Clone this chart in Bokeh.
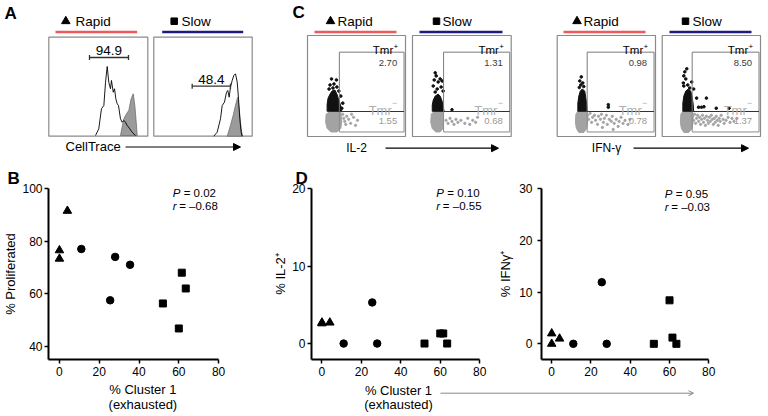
from bokeh.plotting import figure
from bokeh.layouts import row, column
from bokeh.models import Range1d, Arrow, NormalHead, OpenHead, Label, FixedTicker
from bokeh.embed import file_html
from bokeh.resources import INLINE
from bokeh.core.properties import value

FONT = "Liberation Sans"
RED = "#ee5a5a"
NAVY = "#1c1c80"
BOX = "#8a8a8a"

# ---------------- Panel B / D values ----------------
x_ticks = [0, 20, 40, 60, 80]
b_y_ticks = [40, 60, 80, 100]
il2_y_ticks = [0, 10, 20]
ifng_y_ticks = [0, 10, 20, 30]

rapid_cluster1_b = [0, 0, 4]
rapid_proliferated = [76.5, 73.3, 91.5]
mid_cluster1_b = [11, 28, 35.5, 25.5]
mid_proliferated = [77, 74, 71, 57.5]
slow_cluster1_b = [61.5, 63.5, 52, 60]
slow_proliferated = [68, 62, 56.3, 46.8]

rapid_cluster1_d = [0, 0, 4]
rapid_il2 = [2.7, 2.6, 2.7]
rapid_ifng = [2.0, 0.0, 1.0]
mid_cluster1_d = [11, 25.5, 28]
mid_il2 = [0.0, 5.3, 0.0]
mid_ifng = [0.0, 11.9, 0.0]
slow_cluster1_d = [52, 60, 61.5, 63.5]
slow_il2 = [0.0, 1.3, 1.3, 0.0]
slow_ifng = [0.0, 8.4, 1.2, 0.0]

stats_b = ("0.02", "\u20130.68")
stats_il2 = ("0.10", "\u20130.55")
stats_ifng = ("0.95", "\u20130.03")

# ---------------- Panel A histograms (channel %, count % of box) ----------------
A_RAPID_OPEN_X = [47.2, 50.5, 53.2, 55.6, 57.3, 59.0, 60.6, 62.3, 63.3, 65.1, 66.4, 67.7, 69.1, 70.4, 72.4, 74.1, 75.8, 77.5, 79.2, 81.8, 84.2, 87.6]
A_RAPID_OPEN_Y = [0.7, 7.5, 27.7, 31.0, 54.5, 70.4, 54.5, 47.9, 56.3, 44.4, 47.9, 37.8, 32.7, 31.0, 17.6, 14.1, 15.9, 14.1, 10.8, 7.5, 4.0, 0.7]
A_RAPID_GRAY_X = [72.4, 75.8, 78.5, 80.8, 83.2, 85.3, 86.9, 88.3, 89.3]
A_RAPID_GRAY_Y = [0.7, 17.6, 22.6, 26.0, 37.8, 42.8, 31.0, 14.1, 0.7]
A_SLOW_OPEN_X = [61.0, 64.4, 67.8, 69.5, 71.8, 73.9, 75.2, 76.6, 77.9, 79.7, 81.3, 83.0, 84.8, 86.1, 87.4, 88.8, 89.8]
A_SLOW_OPEN_Y = [0, 4, 17.6, 31, 34.3, 44.4, 46.2, 39.4, 49.5, 56.3, 61.3, 63, 54.5, 37.8, 17.6, 4, 0]
A_SLOW_GRAY_X = [74.6, 77.9, 80.6, 83.0, 84.8, 85.4, 87.1, 88.8, 90.1]
A_SLOW_GRAY_Y = [0, 10.8, 20.9, 31, 37.8, 39.4, 24.2, 7.5, 0]
A_RAPID_GATE = [41.1, 80.5, 79.5]
A_SLOW_GATE = [39.0, 77.9, 50.5]
A_PCT = ["94.9", "48.4"]

# ---------------- Panel C dot plots (box %) ----------------
GATE_LEFT = [32.5, 31.5, 30.5, 30.5]
GATE_RIGHT, GATE_BOTTOM, GATE_MID, GATE_TOP = 98.5, 4.5, 24.75, 83.5
C_PCT_POS = ["2.70", "1.31", "0.98", "8.50"]
C_PCT_NEG = ["1.55", "0.68", "0.78", "1.37"]

IL2_RAPID_BLACK_CORE_X = [20, 20, 21, 23, 25, 28, 30, 32, 34, 35]
IL2_RAPID_BLACK_CORE_Y = [25, 32, 38, 42, 45, 46, 42, 36, 30, 25]
IL2_RAPID_BLACK_DOTS_X = [24.5, 29.5, 23, 27, 30, 22, 32, 34, 36, 35, 26]
IL2_RAPID_BLACK_DOTS_Y = [57, 56, 51, 52, 49, 47, 45, 40, 33, 28, 48]
IL2_RAPID_GRAY_CORE_X = [19, 18.5, 20, 24, 30, 34, 35, 34, 30, 23]
IL2_RAPID_GRAY_CORE_Y = [22, 14, 8, 4.5, 4.5, 8, 15, 24.5, 25, 25]
IL2_RAPID_GRAY_DOTS_X = [36, 37, 38, 40, 42, 44, 47, 49, 39, 45, 51]
IL2_RAPID_GRAY_DOTS_Y = [22, 18, 15, 20, 17, 13, 19, 11, 12, 22, 16]

IL2_SLOW_BLACK_CORE_X = [20, 20, 21, 23, 26, 28, 30, 31, 32]
IL2_SLOW_BLACK_CORE_Y = [25, 31, 36, 40, 42, 40, 35, 30, 25]
IL2_SLOW_BLACK_DOTS_X = [23, 24, 22, 26, 28, 21, 29, 25, 31, 23, 30, 40]
IL2_SLOW_BLACK_DOTS_Y = [63, 60, 56, 54, 57, 50, 49, 47, 45, 44, 55, 26.5]
IL2_SLOW_GRAY_CORE_X = [19, 18.5, 20, 23.5, 28, 31, 31.5, 31, 28, 22]
IL2_SLOW_GRAY_CORE_Y = [22, 14, 8, 4.5, 4.5, 8, 15, 24.5, 25, 25]
IL2_SLOW_GRAY_DOTS_X = [34, 36, 38, 40, 42, 44, 46, 49, 53, 56, 58, 61, 64, 66]
IL2_SLOW_GRAY_DOTS_Y = [16, 13, 18, 15, 12, 17, 14, 16, 13, 18, 12, 16, 14, 19]

IFNG_RAPID_BLACK_CORE_X = [21, 21, 22, 23.5, 25.5, 28, 29, 30, 30.5]
IFNG_RAPID_BLACK_CORE_Y = [25, 33, 40, 45, 47, 45, 39, 32, 25]
IFNG_RAPID_BLACK_DOTS_X = [24.5, 23, 26, 24, 27, 22.5, 52, 52]
IFNG_RAPID_BLACK_DOTS_Y = [59, 55, 53, 51, 49.5, 48.5, 31.5, 29]
IFNG_RAPID_GRAY_CORE_X = [19, 18.5, 19.5, 22, 27, 30, 31, 30.5, 29, 21]
IFNG_RAPID_GRAY_CORE_Y = [22, 14, 8, 4, 4, 8, 15, 24.5, 25, 25]
IFNG_RAPID_GRAY_DOTS_X = [31, 32, 33.5, 35, 36, 38, 39, 41, 42, 44, 45, 47, 48, 50, 51, 53, 55, 56, 58, 60, 62, 63, 65, 67, 69, 72, 57, 46, 74]
IFNG_RAPID_GRAY_DOTS_Y = [21, 17, 23, 14, 19, 21, 16, 12, 20, 17, 22, 14, 18, 21, 12, 17, 15, 20, 13, 17, 10, 15, 19, 13, 16, 12, 7, 9, 17]

IFNG_SLOW_BLACK_CORE_X = [21, 21, 22, 24, 26.5, 29, 30.5, 31.5, 32]
IFNG_SLOW_BLACK_CORE_Y = [25, 33, 40, 45, 47, 45, 39, 32, 25]
IFNG_SLOW_BLACK_DOTS_X = [22, 24, 21.5, 26, 28, 23, 25, 22, 32, 35, 37, 40, 42.5, 45, 55, 68, 30]
IFNG_SLOW_BLACK_DOTS_Y = [60, 57, 53, 51, 48, 64, 67, 50, 47, 38, 29, 29, 29.5, 38, 28, 28, 54]
IFNG_SLOW_GRAY_CORE_X = [19, 18.5, 19.5, 22, 27, 30.5, 31.5, 31, 29, 21]
IFNG_SLOW_GRAY_CORE_Y = [22, 14, 8, 4, 4, 8, 15, 24.5, 25, 25]
IFNG_SLOW_GRAY_DOTS_X = [31, 32, 33, 34, 35, 36, 37, 38, 39, 40, 41, 42, 43, 44, 45, 46, 47, 48, 49, 50, 51, 52, 53, 54, 55, 56, 57, 58, 59, 60, 62, 63, 65, 67, 69, 71, 73, 76]
IFNG_SLOW_GRAY_DOTS_Y = [20, 16, 22, 13, 18, 21, 15, 19, 12, 17, 21, 14, 18, 11, 20, 16, 13, 19, 15, 21, 17, 12, 18, 14, 20, 16, 11, 18, 15, 21, 17, 13, 16, 19, 14, 18, 15, 18]


# ---------------- helpers ----------------
def canvas(x0, y0, w, h):
    p = figure(width=w, height=h, x_range=Range1d(x0, x0 + w), y_range=Range1d(y0 + h, y0),
               output_backend="svg", toolbar_location=None, min_border=0,
               x_axis_location=None, y_axis_location=None)
    p.xgrid.visible = False
    p.ygrid.visible = False
    p.outline_line_color = None
    p.background_fill_color = "white"
    return p


def txt(p, x, y, s, size="13px", align="left", baseline="middle", color="black", style="normal", **kw):
    p.text(x=[x], y=[y], text=[s], text_font=value(FONT), text_font_size=size,
           text_align=align, text_baseline=baseline, text_color=color,
           text_font_style=style, **kw)


def flow_box(p, name, L, R, T, B, x0, y0, w, h):
    bw, bh = R - L, B - T
    p.extra_x_ranges[name] = Range1d(-(L - x0) / bw * 100, 100 + (x0 + w - R) / bw * 100)
    p.extra_y_ranges[name] = Range1d(-(y0 + h - B) / bh * 100, 100 + (T - y0) / bh * 100)
    kw = dict(x_range_name=name, y_range_name=name)
    p.quad(left=[0], right=[100], bottom=[0], top=[100], fill_color=None,
           line_color=BOX, line_width=1.2, **kw)
    return kw


def header(p, tri_x, rapid_x, red0, red1, sq_x, slow_x, blue0, blue1):
    p.scatter([tri_x], [20.7], marker="triangle", size=8.5, color="black")
    txt(p, rapid_x, 20.7, "Rapid", size="13.5px")
    p.scatter([sq_x], [20.7], marker="square", size=6.5, color="black")
    txt(p, slow_x, 20.7, "Slow", size="13.5px")
    p.segment(x0=[red0], y0=[31.5], x1=[red1], y1=[31.5], line_color=RED, line_width=2.5)
    p.segment(x0=[blue0], y0=[31.5], x1=[blue1], y1=[31.5], line_color=NAVY, line_width=2.5)


# ---------------- Panel A ----------------
AX0, AY0, AW, AH = 0, 0, 280, 155
pA = canvas(AX0, AY0, AW, AH)
txt(pA, 4, 12.5, "A", size="17px", style="bold")
header(pA, 65.3, 75, 55, 136.7, 173.7, 181, 161.7, 242.7)

hist_specs = [
    ("a_rapid", 48.3, 147.3, A_RAPID_OPEN_X, A_RAPID_OPEN_Y, A_RAPID_GRAY_X, A_RAPID_GRAY_Y, A_RAPID_GATE, A_PCT[0]),
    ("a_slow", 153.3, 251.7, A_SLOW_OPEN_X, A_SLOW_OPEN_Y, A_SLOW_GRAY_X, A_SLOW_GRAY_Y, A_SLOW_GATE, A_PCT[1]),
]
for name, L, R, ox, oy, gx, gy, gate, pct in hist_specs:
    kw = flow_box(pA, name, L, R, 36.7, 135.7, AX0, AY0, AW, AH)
    pA.patch(gx, gy, fill_color="#9b9b9b", line_color="#6e6e6e", line_width=0.8, **kw)
    pA.line(ox, oy, line_color="black", line_width=0.9, **kw)
    g0, g1, lvl = gate
    pA.segment(x0=[g0], y0=[lvl], x1=[g1], y1=[lvl], line_color="#333333", line_width=1.3, **kw)
    pA.segment(x0=[g0, g1], y0=[lvl - 2.5, lvl - 2.5], x1=[g0, g1], y1=[lvl + 2.5, lvl + 2.5],
               line_color="#333333", line_width=1.3, **kw)
    txt(pA, (g0 + g1) / 2, lvl + 2.5, pct, size="13.5px", align="center", baseline="bottom", **kw)

txt(pA, 65, 146, "CellTrace", size="13px")
pA.add_layout(Arrow(end=NormalHead(size=7, fill_color="black", line_color="black", line_width=1),
                    x_start=125, y_start=146.5, x_end=240, y_end=146.5,
                    line_color="black", line_width=1.2))

# ---------------- Panel C ----------------
CX0, CY0, CW, CH = 280, 0, 488, 155
pC = canvas(CX0, CY0, CW, CH)
txt(pC, 292, 11.5, "C", size="17px", style="bold")
header(pC, 330, 337, 314, 396, 436, 442, 419, 502)
header(pC, 576.5, 583, 563, 645, 685, 692, 669, 751)

flow_specs = [
    ("c1", 307, 405, IL2_RAPID_BLACK_CORE_X, IL2_RAPID_BLACK_CORE_Y, IL2_RAPID_BLACK_DOTS_X, IL2_RAPID_BLACK_DOTS_Y,
     IL2_RAPID_GRAY_CORE_X, IL2_RAPID_GRAY_CORE_Y, IL2_RAPID_GRAY_DOTS_X, IL2_RAPID_GRAY_DOTS_Y),
    ("c2", 412, 510.7, IL2_SLOW_BLACK_CORE_X, IL2_SLOW_BLACK_CORE_Y, IL2_SLOW_BLACK_DOTS_X, IL2_SLOW_BLACK_DOTS_Y,
     IL2_SLOW_GRAY_CORE_X, IL2_SLOW_GRAY_CORE_Y, IL2_SLOW_GRAY_DOTS_X, IL2_SLOW_GRAY_DOTS_Y),
    ("c3", 556.7, 655, IFNG_RAPID_BLACK_CORE_X, IFNG_RAPID_BLACK_CORE_Y, IFNG_RAPID_BLACK_DOTS_X, IFNG_RAPID_BLACK_DOTS_Y,
     IFNG_RAPID_GRAY_CORE_X, IFNG_RAPID_GRAY_CORE_Y, IFNG_RAPID_GRAY_DOTS_X, IFNG_RAPID_GRAY_DOTS_Y),
    ("c4", 661.7, 760, IFNG_SLOW_BLACK_CORE_X, IFNG_SLOW_BLACK_CORE_Y, IFNG_SLOW_BLACK_DOTS_X, IFNG_SLOW_BLACK_DOTS_Y,
     IFNG_SLOW_GRAY_CORE_X, IFNG_SLOW_GRAY_CORE_Y, IFNG_SLOW_GRAY_DOTS_X, IFNG_SLOW_GRAY_DOTS_Y),
]
for i, (name, L, R, bcx, bcy, bdx, bdy, gcx, gcy, gdx, gdy) in enumerate(flow_specs):
    kw = flow_box(pC, name, L, R, 35, 136, CX0, CY0, CW, CH)
    pC.patch(gcx, gcy, fill_color="#a3a3a3", line_color="#a3a3a3", line_width=1, **kw)
    pC.scatter(gdx, gdy, size=2.3, color="#a3a3a3", **kw)
    pC.patch(bcx, bcy, fill_color="#111111", line_color="#111111", line_width=1, **kw)
    pC.scatter(bdx, bdy, size=2.6, color="#111111", **kw)
    gl = GATE_LEFT[i]
    pC.quad(left=[gl], right=[GATE_RIGHT], bottom=[GATE_MID], top=[GATE_TOP], fill_color=None,
            line_color="#7a7a7a", line_width=1, **kw)
    pC.quad(left=[gl], right=[GATE_RIGHT], bottom=[GATE_BOTTOM], top=[GATE_MID], fill_color=None,
            line_color="#8c8c8c", line_width=1, **kw)
    pC.segment(x0=[gl], y0=[GATE_MID], x1=[GATE_RIGHT], y1=[GATE_MID], line_color="#333333", line_width=1.2, **kw)
    txt(pC, 87.5, 85.3, "Tmr", size="11.5px", align="right", baseline="alphabetic", **kw)
    txt(pC, 87.8, 89.5, "+", size="8px", align="left", baseline="alphabetic", **kw)
    txt(pC, 91.5, 72.5, C_PCT_POS[i], size="9.5px", align="right", baseline="alphabetic", color="#3a3a3a", **kw)
    txt(pC, 86.0, 25.8, "Tmr", size="13px", align="right", baseline="alphabetic", color="#b0b0b0", **kw)
    txt(pC, 86.3, 33.5, "\u2212", size="9px", align="left", baseline="alphabetic", color="#b0b0b0", **kw)
    txt(pC, 91.5, 15.0, C_PCT_NEG[i], size="9.5px", align="right", baseline="alphabetic", color="#999999", **kw)

txt(pC, 356, 147.5, "IL-2", size="12px", align="center")
pC.add_layout(Arrow(end=NormalHead(size=7, fill_color="black", line_color="black", line_width=1),
                    x_start=385, y_start=147.7, x_end=498, y_end=147.7, line_color="black", line_width=1.2))
txt(pC, 606, 147.5, "IFN-\u03b3", size="12px", align="center")
pC.add_layout(Arrow(end=NormalHead(size=7, fill_color="black", line_color="black", line_width=1),
                    x_start=633, y_start=147.7, x_end=748, y_end=147.7, line_color="black", line_width=1.2))


# ---------------- scatter panels ----------------
def scatter_panel(w, h, xr, yr, yticks, ylabel, mbl, mbr, mbt, mbb, tick_standoff, label_standoff,
                  letter, letter_offset):
    p = figure(width=w, height=h, x_range=Range1d(*xr), y_range=Range1d(*yr),
               output_backend="svg", toolbar_location=None, title=letter,
               min_border_left=mbl, min_border_right=mbr, min_border_top=mbt, min_border_bottom=mbb)
    p.title.text_font = FONT
    p.title.text_font_size = "17px"
    p.title.text_font_style = "bold"
    p.title.text_color = "black"
    p.title.align = "left"
    p.title.offset = letter_offset
    p.title.standoff = 1
    p.xgrid.visible = False
    p.ygrid.visible = False
    p.outline_line_color = None
    p.xaxis.ticker = FixedTicker(ticks=x_ticks)
    p.yaxis.ticker = FixedTicker(ticks=yticks)
    p.xaxis.bounds = (xr[0], x_ticks[-1])
    for ax in (p.xaxis[0], p.yaxis[0]):
        ax.axis_line_width = 2
        ax.axis_line_color = "black"
        ax.major_tick_line_width = 1.5
        ax.major_tick_line_color = "black"
        ax.major_tick_out = 4
        ax.major_tick_in = 0
        ax.minor_tick_out = 0
        ax.minor_tick_in = 0
        ax.major_label_text_font = FONT
        ax.major_label_text_font_size = "12px"
        ax.major_label_text_color = "black"
    p.xaxis.major_label_standoff = 3
    p.yaxis.major_label_standoff = tick_standoff
    p.yaxis.axis_label = ylabel
    p.yaxis.axis_label_text_font = FONT
    p.yaxis.axis_label_text_font_size = "13px"
    p.yaxis.axis_label_text_font_style = "normal"
    p.yaxis.axis_label_text_color = "black"
    p.yaxis.axis_label_standoff = label_standoff
    return p


def plot_groups(p, rx, ry, mx, my, sx, sy):
    p.scatter(rx, ry, marker="triangle", size=8.5, color="black")
    p.scatter(mx, my, marker="circle", size=7.5, color="black")
    p.scatter(sx, sy, marker="square", size=7, color="black")


def stats(p, x, yp, yr, st):
    common = dict(text_font=FONT, text_font_size="11.5px", text_baseline="middle", text_color="black")
    p.add_layout(Label(x=x, y=yp, text="P", text_font_style="italic", **common))
    p.add_layout(Label(x=x, y=yp, x_offset=11, text="= " + st[0], **common))
    p.add_layout(Label(x=x, y=yr, text="r", text_font_style="italic", **common))
    p.add_layout(Label(x=x, y=yr, x_offset=6.5, text="= " + st[1], **common))


SC_H = 227
pB = scatter_panel(270, SC_H, (-5.5, 88), (35, 100), b_y_ticks, "% Proliferated", 47, 36, 33, 23, 2, 1,
                   "B", -41)
plot_groups(pB, rapid_cluster1_b, rapid_proliferated, mid_cluster1_b, mid_proliferated, slow_cluster1_b, slow_proliferated)
stats(pB, 56.9, 98.2, 93.3, stats_b)

pDL = scatter_panel(225, SC_H, (-5.3, 88), (-2.06, 20), il2_y_ticks, "% IL-2\u207a", 38, 0, 33, 23, 2, 1,
                    "D", -16)
plot_groups(pDL, rapid_cluster1_d, rapid_il2, mid_cluster1_d, mid_il2, slow_cluster1_d, slow_il2)
stats(pDL, 58, 19.4, 17.7, stats_il2)

pDR = scatter_panel(273, SC_H, (-5.2, 88), (-3.03, 30), ifng_y_ticks, "% IFN\u03b3\u207a", 42, 44, 33, 23, 5, 3,
                    " ", 0)
plot_groups(pDR, rapid_cluster1_d, rapid_ifng, mid_cluster1_d, mid_ifng, slow_cluster1_d, slow_ifng)
stats(pDR, 57.6, 29.0, 26.5, stats_ifng)

# ---------------- x-axis title strips ----------------
sB = canvas(0, 382, 270, 34)
txt(sB, 137, 389.3, "% Cluster 1", size="13px", align="center")
txt(sB, 137, 403.5, "(exhausted)", size="13px", align="center")

sD = canvas(270, 382, 498, 34)
txt(sD, 398, 389.8, "% Cluster 1", size="13px", align="center")
txt(sD, 398, 403.5, "(exhausted)", size="13px", align="center")
sD.add_layout(Arrow(end=OpenHead(size=5, line_color="#888888", line_width=1),
                    x_start=440, y_start=392.7, x_end=693, y_end=392.7, line_color="#888888", line_width=1))

layout = column(
    row(pA, pC),
    row(column(pB, sB), column(row(pDL, pDR), sD)),
)

with open("out.html", "w") as f:
    f.write(file_html(layout, INLINE))
